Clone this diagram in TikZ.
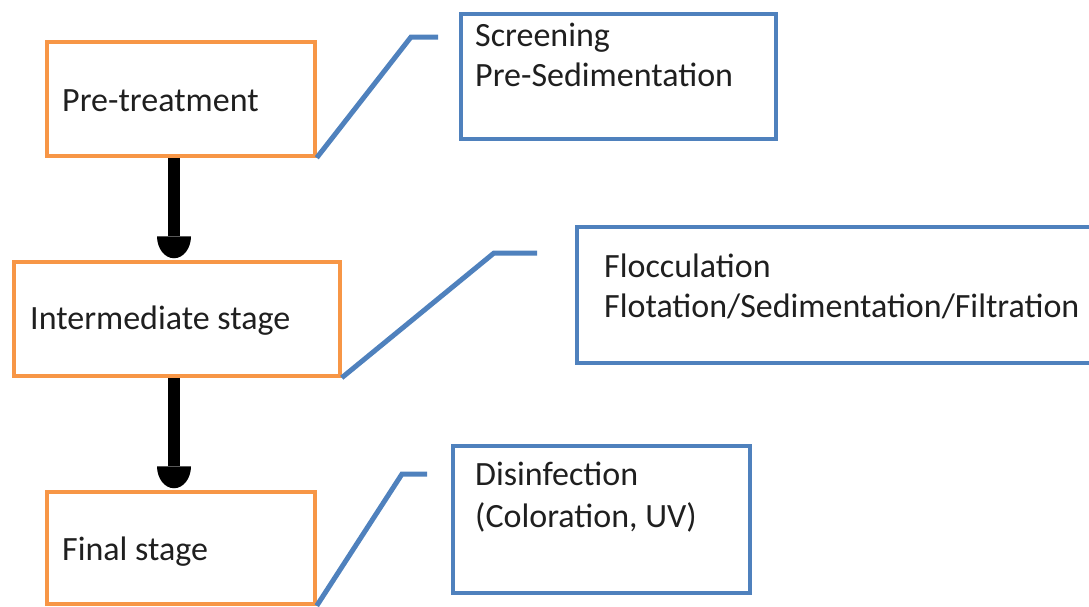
\documentclass[tikz,border=0pt]{standalone}
\usepackage{fontspec}
\setmainfont{Carlito}
\usetikzlibrary{calc}
\definecolor{oorange}{HTML}{F79646}
\definecolor{oblue}{HTML}{4F81BD}
\tikzset{
  obox/.style={draw=oorange, line width=3.5pt, rectangle, inner sep=0pt},
  bbox/.style={draw=oblue, line width=3.5pt, rectangle, inner sep=0pt},
  txt/.style={anchor=base west, inner sep=0pt, font=\fontsize{34}{40}\selectfont, text=black!88},
  link/.style={draw=oblue, line width=5pt},
  shaft/.style={line width=12pt},
  headfill/.style={fill=black},
}
\begin{document}
\begin{tikzpicture}[x=1pt,y=-1pt]
\useasboundingbox (0,0) rectangle (1089,606);
\clip (0,0) rectangle (1089,606);
% orange stage boxes
\node[obox, minimum width=268pt, minimum height=114pt] (pre) at (181,99) {};
\node[obox, minimum width=326pt, minimum height=114pt] (mid) at (177,319) {};
\node[obox, minimum width=268pt, minimum height=112pt] (fin) at (181,548) {};
\node[txt] (tpre) at (62,111) {Pre-treatment};
\node[txt] (tmid) at (30,329) {Intermediate stage};
\node[txt] (tfin) at (62,560) {Final stage};
% blue detail boxes
\node[bbox, minimum width=315pt, minimum height=125pt] (d1) at (618.5,76.5) {};
\node[bbox, minimum width=540pt, minimum height=136pt] (d2) at (847,295) {};
\node[bbox, minimum width=297pt, minimum height=147pt] (d3) at (601.5,519.5) {};
\node[txt] (t1a) at (475,46) {Screening};
\node[txt] (t1b) at (475,86) {Pre-Sedimentation};
\node[txt] (t2a) at (604,277) {Flocculation};
\node[txt] (t2b) at (604,317) {Flotation/Sedimentation/Filtration};
\node[txt] (t3a) at (475,485) {Disinfection};
\node[txt] (t3b) at (475,527) {(Coloration, UV)};
% connectors
\coordinate (c1a) at (411,37); \coordinate (c1b) at (438,37);
\coordinate (c2a) at (494,253); \coordinate (c2b) at (537,253);
\coordinate (c3a) at (402,474); \coordinate (c3b) at (427,474);
\draw[link] (pre.south east) -- (c1a) -- (c1b);
\draw[link] (mid.south east) -- (c2a) -- (c2b);
\draw[link] (fin.south east) -- (c3a) -- (c3b);
% flow arrows
\coordinate (h1) at ($(mid.north)+(-3,-24)$);
\coordinate (h2) at ($(fin.north)+(-7,-24)$);
\draw[shaft] ([xshift=-7pt]pre.south) -- (h1);
\fill[headfill] ($(h1)+(-17,0)$) arc[start angle=180, end angle=0, x radius=17, y radius=22] -- cycle;
\draw[shaft] ([xshift=-3pt]mid.south) -- (h2);
\fill[headfill] ($(h2)+(-17,0)$) arc[start angle=180, end angle=0, x radius=17, y radius=22] -- cycle;
\end{tikzpicture}
\end{document}
